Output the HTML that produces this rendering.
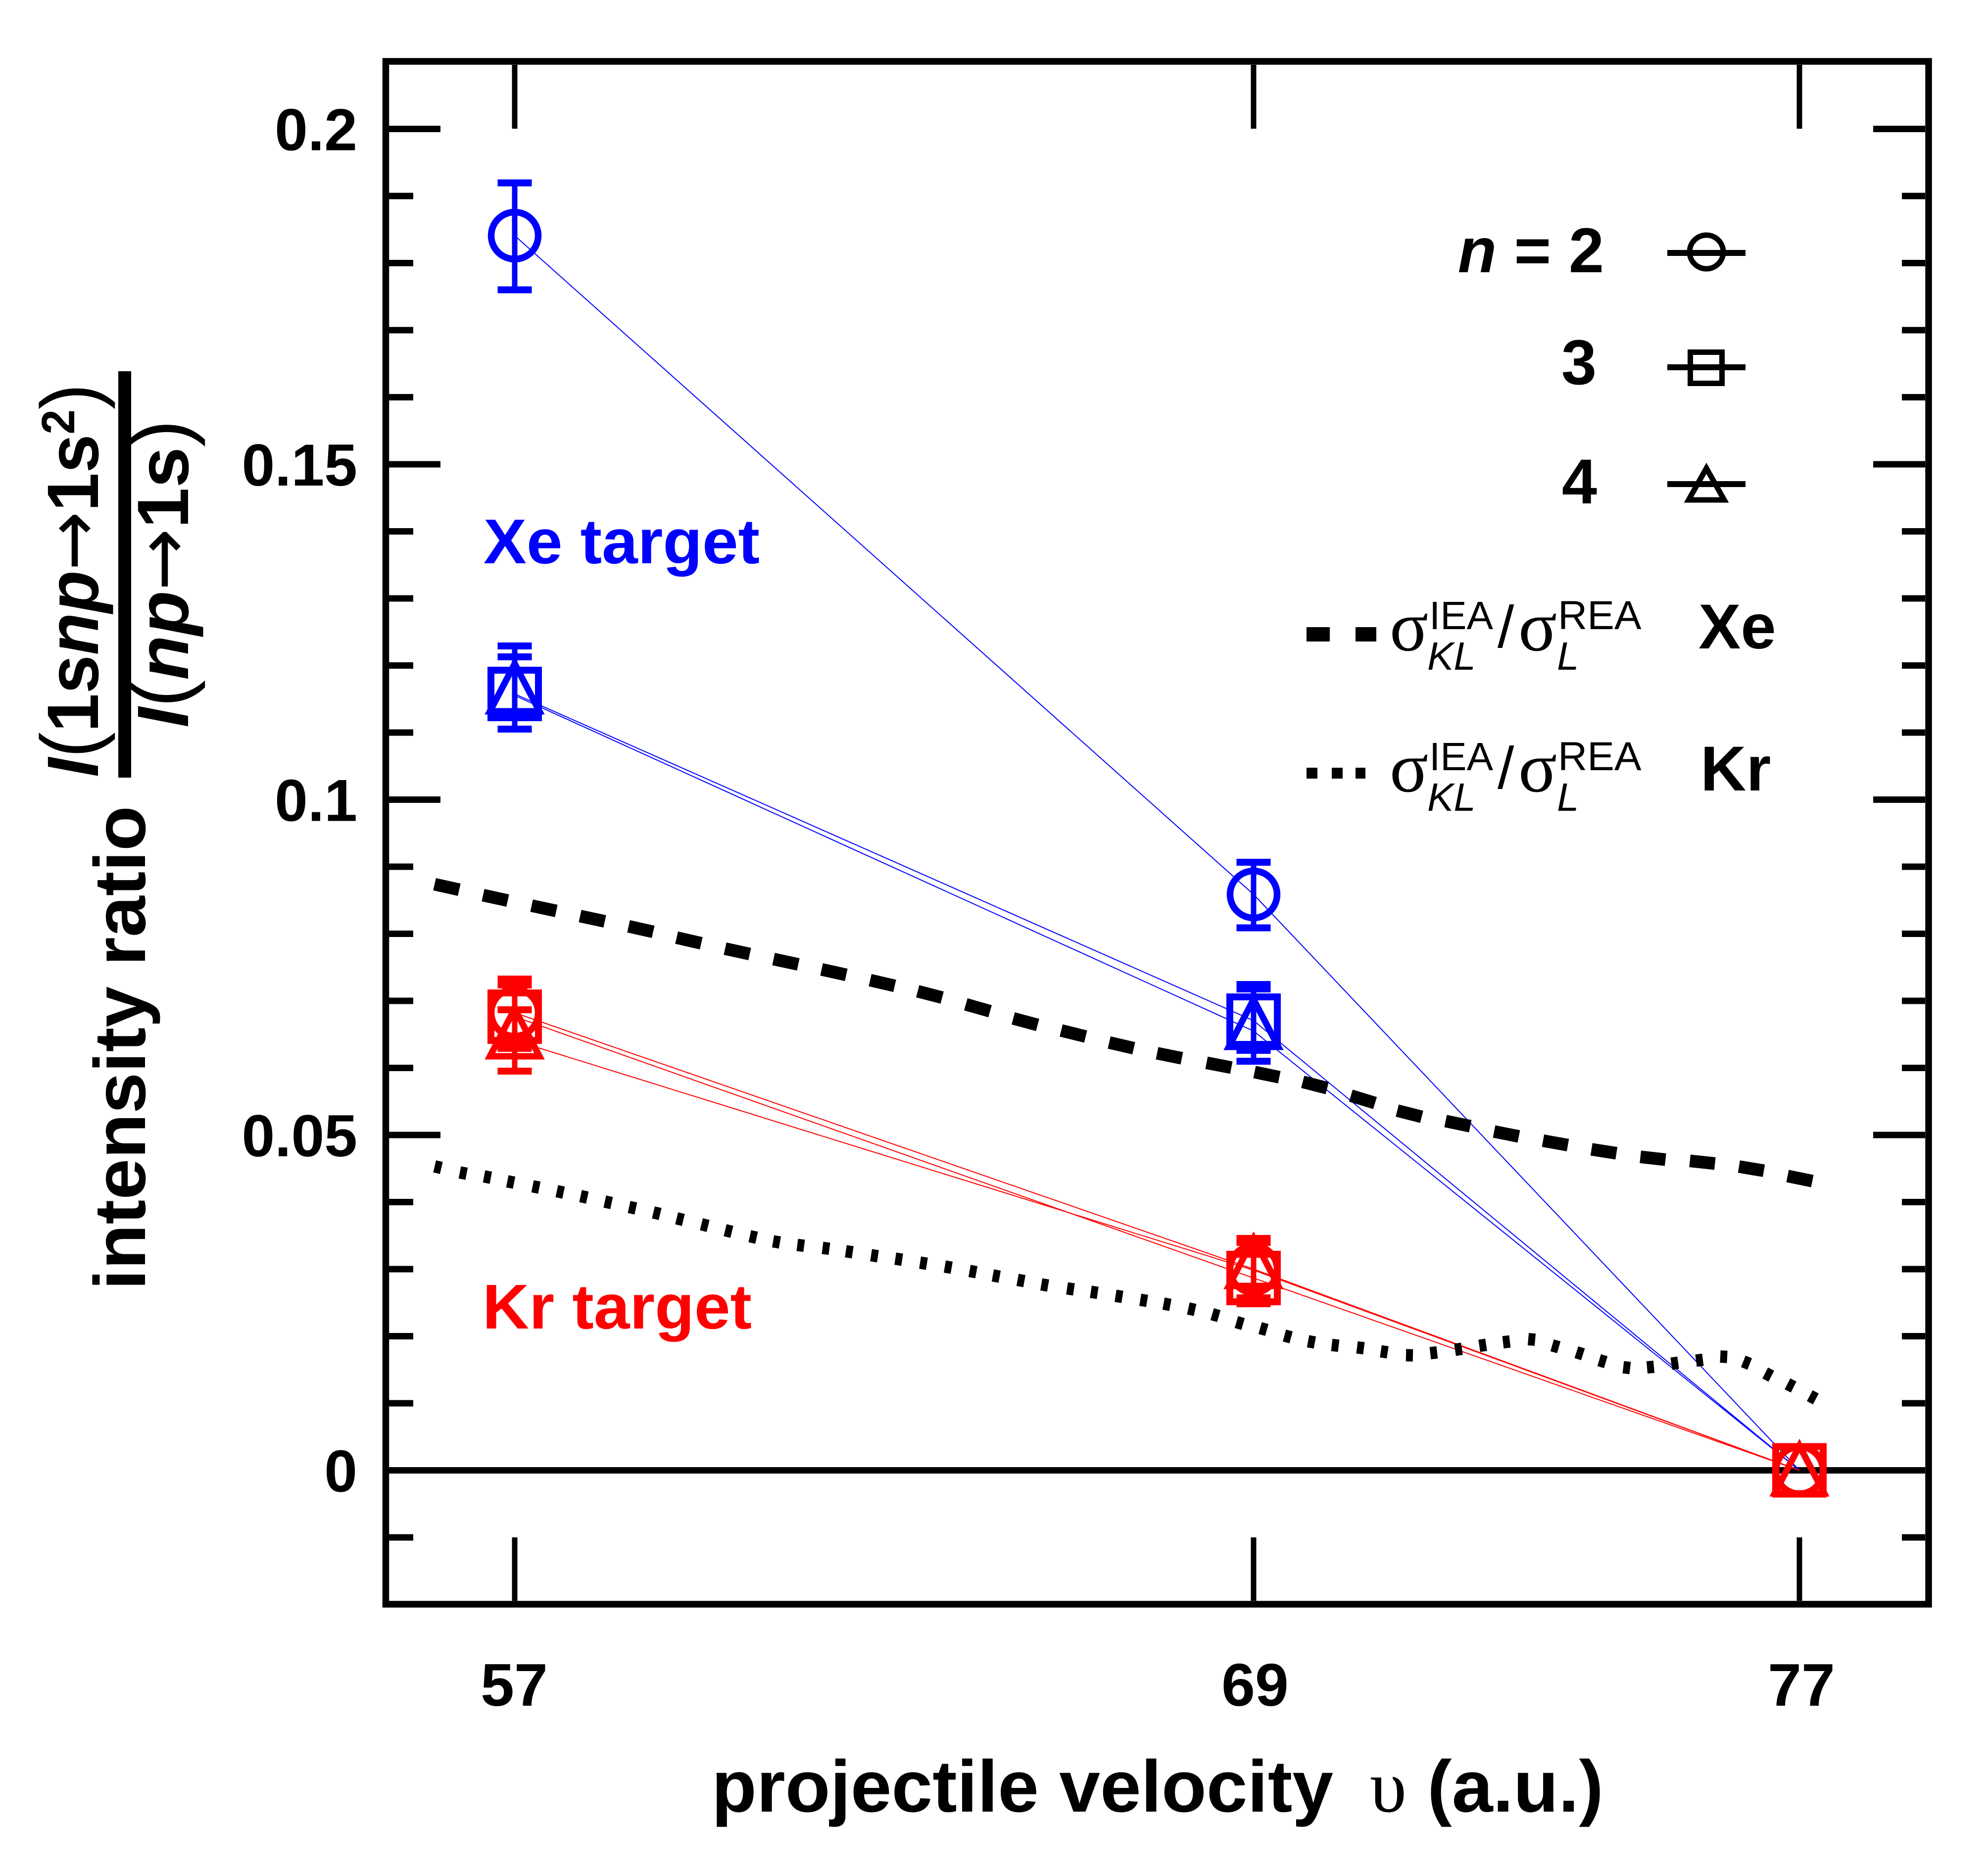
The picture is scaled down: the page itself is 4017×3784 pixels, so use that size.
<!DOCTYPE html>
<html><head><meta charset="utf-8">
<style>
html,body{margin:0;padding:0;background:#fff;}
svg{display:block;}
text{font-family:"Liberation Sans", Arial, sans-serif;}
.serif{font-family:"Liberation Serif", "DejaVu Serif", serif;}
.arr{font-family:"DejaVu Sans", "Liberation Sans", sans-serif;}
</style></head>
<body>
<svg width="4017" height="3784" viewBox="0 0 4017 3784" xmlns="http://www.w3.org/2000/svg" xmlns:xlink="http://www.w3.org/1999/xlink">
<defs>
<circle id="mc" r="47.5" fill="none" stroke-width="13.5"/>
<rect id="ms" x="-48" y="-48" width="96" height="96" fill="none" stroke-width="14"/>
<path id="mt" d="M0 -64 L-50 32 L50 32 Z" fill="none" stroke-width="13" stroke-linejoin="miter"/>
</defs>
<rect width="4017" height="3784" fill="#fff"/>

<!-- frame -->
<rect x="779.5" y="124" width="3117.5" height="3117" fill="none" stroke="#000" stroke-width="13.5"/>

<!-- y ticks -->
<path stroke="#000" stroke-width="13" fill="none" d="
M786 260.5H890 M786 938H890 M786 1615.5H890 M786 2293H890
M786 3106H835 M786 2835H835 M786 2699.5H835 M786 2564H835 M786 2428.5H835
M786 2157.5H835 M786 2022H835 M786 1886.5H835 M786 1751H835
M786 1480H835 M786 1344.5H835 M786 1209H835 M786 1073.5H835
M786 802.5H835 M786 667H835 M786 531.5H835 M786 396H835
M3890 260.5H3785 M3890 938H3785 M3890 1615.5H3785 M3890 2293H3785
M3890 3106H3843 M3890 2835H3843 M3890 2699.5H3843 M3890 2564H3843 M3890 2428.5H3843
M3890 2157.5H3843 M3890 2022H3843 M3890 1886.5H3843 M3890 1751H3843
M3890 1480H3843 M3890 1344.5H3843 M3890 1209H3843 M3890 1073.5H3843
M3890 802.5H3843 M3890 667H3843 M3890 531.5H3843 M3890 396H3843"/>
<!-- x ticks -->
<path stroke="#000" stroke-width="11" fill="none" d="M1040 131V260 M2533 131V260 M3636 131V260 M1040 3234V3106 M2533 3234V3106 M3636 3234V3106"/>
<!-- zero line -->
<path stroke="#000" stroke-width="13" d="M786 2970.5H3890"/>

<!-- y tick labels -->
<g font-size="120" font-weight="bold" text-anchor="end" fill="#000">
<text x="722" y="303.5">0.2</text>
<text x="722" y="981">0.15</text>
<text x="722" y="1658.5">0.1</text>
<text x="722" y="2336">0.05</text>
<text x="722" y="3013.5">0</text>
</g>
<!-- x tick labels -->
<g font-size="122" font-weight="bold" text-anchor="middle" fill="#000">
<text x="1039" y="3446">57</text>
<text x="2536" y="3446">69</text>
<text x="3640" y="3446">77</text>
</g>

<!-- x axis label -->
<text x="1438" y="3660" font-size="148" font-weight="bold" textLength="1256" lengthAdjust="spacingAndGlyphs">projectile velocity</text>
<text class="serif" x="2768" y="3660" font-size="150">υ</text>
<text x="2884" y="3660" font-size="148" font-weight="bold" textLength="356" lengthAdjust="spacingAndGlyphs">(a.u.)</text>

<!-- y axis label -->
<text transform="translate(293,2606) rotate(-90)" font-size="147" font-weight="bold" textLength="978" lengthAdjust="spacingAndGlyphs">intensity ratio</text>
<text transform="translate(198,1570) rotate(-90)" font-size="147" font-weight="bold" textLength="795" lengthAdjust="spacingAndGlyphs"><tspan font-style="italic">I</tspan><tspan font-weight="normal" font-size="165">(</tspan>1s<tspan font-style="italic">np</tspan><tspan class="arr" font-weight="normal" font-size="150">→</tspan>1s<tspan font-size="95" dy="-48">2</tspan><tspan font-weight="normal" font-size="165" dy="48">)</tspan></text>
<rect x="239" y="750" width="26" height="821" fill="#000"/>
<text transform="translate(380,1470) rotate(-90)" font-size="147" font-weight="bold" textLength="622" lengthAdjust="spacingAndGlyphs"><tspan font-style="italic">I</tspan><tspan font-weight="normal" font-size="165">(</tspan><tspan font-style="italic">np</tspan><tspan class="arr" font-weight="normal" font-size="150">→</tspan>1s<tspan font-weight="normal" font-size="165">)</tspan></text>

<!-- target labels -->
<text x="977" y="1138" font-size="128" font-weight="bold" fill="#0000ff" textLength="558" lengthAdjust="spacingAndGlyphs">Xe target</text>
<text x="975" y="2684" font-size="128" font-weight="bold" fill="#ff0000" textLength="544" lengthAdjust="spacingAndGlyphs">Kr target</text>

<!-- data lines -->
<g fill="none" stroke-width="2">
<polyline stroke="#0000ff" points="1040,476 2533,1807 3636,2970.5"/>
<polyline stroke="#0000ff" points="1040,1402 2533,2062 3636,2970.5"/>
<polyline stroke="#0000ff" points="1040,1405 2533,2083 3636,2970.5"/>
<polyline stroke="#ff0000" points="1040,2046 2533,2564 3636,2970.5"/>
<polyline stroke="#ff0000" points="1040,2054 2533,2582 3636,2970.5"/>
<polyline stroke="#ff0000" points="1040,2102 2533,2566 3636,2970.5"/>
</g>

<!-- blue error bars -->
<g stroke="#0000ff" fill="none">
<path stroke-width="11" d="M1040 369.5V585.5 M1040 1327V1473 M1040 1305V1473 M2533 1742V1874.5 M2533 1998V2122 M2533 1989V2144"/>
<path stroke-width="14" d="M1005.5 369.5H1074.5 M1005.5 585.5H1074.5 M1005.5 1327H1074.5 M1005.5 1305H1074.5 M1005.5 1473H1074.5
M2498.5 1742H2567.5 M2498.5 1874.5H2567.5 M2498.5 1998H2567.5 M2498.5 2122H2567.5 M2498.5 1989H2567.5 M2498.5 2144H2567.5"/>
</g>
<!-- blue markers -->
<g stroke="#0000ff">
<use xlink:href="#mc" href="#mc" x="1040" y="476"/>
<use xlink:href="#ms" href="#ms" x="1040" y="1402"/>
<use xlink:href="#mt" href="#mt" x="1040" y="1405"/>
<use xlink:href="#mc" href="#mc" x="2533" y="1807"/>
<use xlink:href="#ms" href="#ms" x="2533" y="2062"/>
<use xlink:href="#mt" href="#mt" x="2533" y="2083"/>
<use xlink:href="#mc" href="#mc" x="3636" y="2970.5"/>
<use xlink:href="#ms" href="#ms" x="3636" y="2970.5"/>
<use xlink:href="#mt" href="#mt" x="3636" y="2985"/>
</g>

<!-- red error bars -->
<g stroke="#ff0000" fill="none">
<path stroke-width="11" d="M1040 1978V2114 M1040 1990V2118 M1040 2040V2164 M2533 2502V2626 M2533 2530V2634 M2533 2510V2622"/>
<path stroke-width="14" d="M1005.5 1978H1074.5 M1005.5 2114H1074.5 M1005.5 1990H1074.5 M1005.5 2118H1074.5 M1005.5 2040H1074.5 M1005.5 2164H1074.5
M2498.5 2502H2567.5 M2498.5 2626H2567.5 M2498.5 2530H2567.5 M2498.5 2634H2567.5 M2498.5 2510H2567.5 M2498.5 2622H2567.5"/>
</g>
<!-- red markers -->
<g stroke="#ff0000">
<use xlink:href="#mc" href="#mc" x="1040" y="2046"/>
<use xlink:href="#ms" href="#ms" x="1040" y="2054"/>
<use xlink:href="#mt" href="#mt" x="1040" y="2102"/>
<use xlink:href="#mc" href="#mc" x="2533" y="2564"/>
<use xlink:href="#ms" href="#ms" x="2533" y="2582"/>
<use xlink:href="#mt" href="#mt" x="2533" y="2566"/>
<use xlink:href="#mc" href="#mc" x="3636" y="2970.5"/>
<use xlink:href="#ms" href="#ms" x="3636" y="2970.5"/>
<use xlink:href="#mt" href="#mt" x="3636" y="2985"/>
</g>

<!-- dashed curve (Xe) -->
<path fill="none" stroke="#000" stroke-width="25.5" stroke-linecap="butt" d="
M878.1 1786.4l49.8 11.1 M976.1 1808.5l49.8 10.9 M1074.1 1829.7l49.9 10.7 M1172.1 1850.7l49.9 10.7
M1270.1 1871.4l49.7 11.2 M1367.2 1894.3l49.7 11.4 M1465.1 1916.5l49.8 10.9 M1563.1 1937.6l49.9 10.7
M1660.1 1958.5l49.8 11 M1758.2 1980.2l49.7 11.5 M1854.3 2002.6l49.4 12.8 M1951.5 2029l49 14
M2047.4 2057.4l49.2 13.3 M2144.2 2081.9l49.5 12.2 M2241.2 2106.2l49.7 11.5 M2338 2127.9l50 10.1
M2438 2147.2l50.1 9.7 M2535 2165.9l50 10.3 M2632.3 2185.6l49.4 12.7 M2729.6 2213.6l48.8 14.8
M2823.3 2243.7l49.4 12.6 M2921 2264.8l49.9 10.4 M3019 2286l50 9.9 M3117.9 2304.5l50.2 8.9
M3215.8 2322l50.4 7.9 M3314.6 2337.2l50.7 5.6 M3414.6 2345.3l50.7 5.4 M3513.8 2356.8l50.3 8.4
M3612 2375.9l50 10.2"/>

<!-- dotted curve (Kr) -->
<path fill="none" stroke="#000" stroke-width="25" stroke-linecap="butt" d="
M878.2 2356.4l13.6 3.2 M929.1 2368.6l13.7 2.7 M978.1 2376.7l13.75 2.6 M1025.1 2386.6l13.7 2.7
M1076.1 2396.6l13.7 2.7 M1125.1 2406.5l13.7 2.9 M1173.1 2416.5l13.7 3 M1222.1 2427.5l13.7 3
M1271.1 2438.5l13.7 3 M1320.2 2449.4l13.6 3.3 M1367.2 2461.4l13.6 3.3 M1417.2 2473.4l13.6 3.3
M1465.2 2485.4l13.6 3.3 M1515.1 2497.5l13.7 3 M1562.1 2507.8l13.8 2.4 M1611 2515.1l13.9 1.8
M1662 2521.1l13.9 1.8 M1709.1 2527.9l13.85 2.1 M1760.1 2535.9l13.85 2.1 M1809.1 2542.9l13.85 2.1
M1859.1 2550.9l13.8 2.2 M1909.1 2558.8l13.8 2.35 M1959.1 2567.7l13.8 2.55 M2006.1 2576.7l13.8 2.55
M2056.1 2585.7l13.8 2.55 M2104.1 2594.8l13.8 2.35 M2156.1 2602.9l13.85 2.1 M2204.1 2609.9l13.85 2.1
M2254.1 2617.9l13.8 2.2 M2304.1 2625.9l13.8 2.25 M2351.1 2633.7l13.8 2.55 M2401.1 2643.5l13.7 3
M2449.3 2655l13.45 3.9 M2498.3 2671l13.45 3.9 M2546.3 2683.1l13.5 3.8 M2595.3 2698.2l13.5 3.65
M2643.1 2709.7l13.75 2.6 M2691 2717.2l13.9 1.65 M2742 2722.1l13.9 1.8 M2790.1 2730l13.85 2.1
M2841 2737.9l14 0.3 M2890 2733.8l13.9 -1.65 M2940.1 2727l13.85 -2.1 M2989.1 2719l13.85 -2.1
M3037 2711.8l13.9 -1.65 M3088 2705.4l13.95 1.25 M3136.3 2718l13.45 3.9 M3185.3 2731.9l13.35 4.25
M3231.3 2748l13.4 4 M3280 2762.2l13.9 1.65 M3328 2762.6l13.95 -1.25 M3377.1 2755l13.85 -1.95
M3427 2748.9l13.9 -1.8 M3476 2740.6l14 0.7 M3522.5 2750.4l13 5.2 M3566.8 2773.8l12.4 6.45
M3611.8 2795.8l12.5 6.35 M3656.8 2819.7l12.4 6.55"/>

<!-- legend: n -->
<g font-size="128" font-weight="bold" fill="#000" text-anchor="end">
<text x="3241" y="550"><tspan font-style="italic">n</tspan> = 2</text>
<text x="3226" y="776">3</text>
<text x="3227" y="1017">4</text>
</g>
<g stroke="#000" fill="none">
<path stroke-width="12" d="M3369 511H3527 M3369 742H3527 M3369 978H3527"/>
<circle cx="3448" cy="509" r="34" stroke-width="11"/>
<rect x="3415.5" y="711.5" width="64" height="63" stroke-width="11"/>
<path d="M3448 946 L3412 1010 L3484 1010 Z" stroke-width="11" stroke-linejoin="miter"/>
</g>

<!-- legend: curves -->
<rect x="2640" y="1267" width="47" height="29" fill="#000"/>
<rect x="2739" y="1267" width="42" height="29" fill="#000"/>
<rect x="2640" y="1551" width="22" height="22" fill="#000"/>
<rect x="2691" y="1551" width="22" height="22" fill="#000"/>
<rect x="2739" y="1551" width="20" height="22" fill="#000"/>

<g fill="#000">
<text class="serif" x="2808" y="1314" font-size="145">σ</text>
<text x="2888" y="1271" font-size="80">IEA</text>
<text x="2884" y="1353" font-size="80" font-style="italic">KL</text>
<text x="3026" y="1308" font-size="120">/</text>
<text class="serif" x="3068" y="1314" font-size="145">σ</text>
<text x="3148" y="1271" font-size="82">REA</text>
<text x="3146" y="1353" font-size="80" font-style="italic">L</text>
<text x="3432" y="1310" font-size="128" font-weight="bold">Xe</text>

<text class="serif" x="2808" y="1599" font-size="145">σ</text>
<text x="2888" y="1556" font-size="80">IEA</text>
<text x="2884" y="1638" font-size="80" font-style="italic">KL</text>
<text x="3026" y="1593" font-size="120">/</text>
<text class="serif" x="3068" y="1599" font-size="145">σ</text>
<text x="3148" y="1556" font-size="82">REA</text>
<text x="3146" y="1638" font-size="80" font-style="italic">L</text>
<text x="3436" y="1597" font-size="128" font-weight="bold">Kr</text>
</g>
</svg>
</body></html>
